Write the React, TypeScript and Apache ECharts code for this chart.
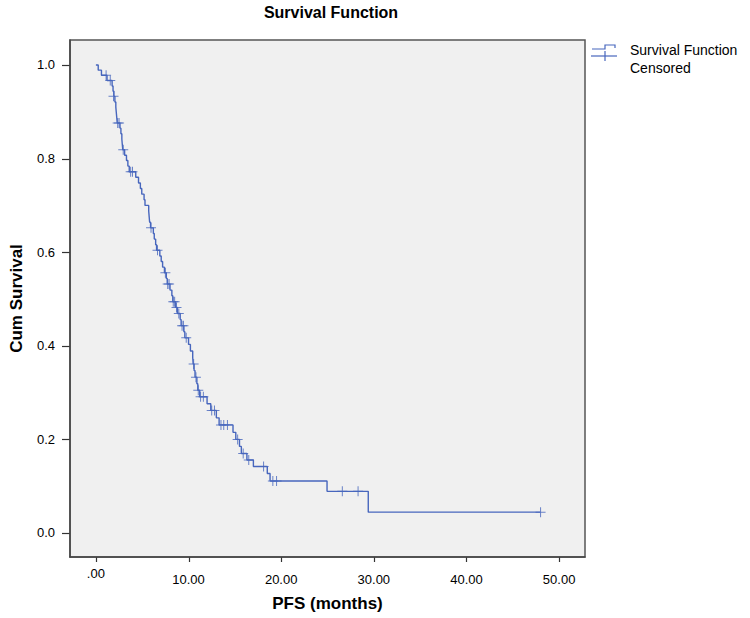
import React, { useEffect, useRef } from "react";
import * as echarts from "echarts";

// Kaplan-Meier steps: [time (months), survival after event]
const eventTimes = [0, 0.25, 0.6, 1.2, 1.75, 1.85, 1.95, 2.05, 2.15, 2.2, 2.25, 2.3, 2.6, 2.7, 2.8, 2.85, 2.9, 3.1, 3.3, 3.45, 3.6, 4.3, 4.6, 4.8, 4.95, 5.2, 5.3, 5.7, 5.75, 5.8, 5.9, 6.2, 6.3, 6.45, 6.55, 6.9, 7.05, 7.2, 7.4, 7.6, 7.7, 8.0, 8.2, 8.3, 8.6, 8.8, 9.1, 9.2, 9.5, 9.6, 10.0, 10.2, 10.45, 10.5, 10.6, 10.7, 10.9, 11.0, 11.2, 12.0, 12.4, 13.0, 13.3, 14.8, 15.1, 15.5, 15.7, 16.3, 17.0, 18.5, 18.8, 24.95, 29.4, 48.0];
const eventSurv = [1.0, 0.989, 0.978, 0.967, 0.955, 0.944, 0.933, 0.921, 0.91, 0.899, 0.888, 0.876, 0.865, 0.853, 0.842, 0.83, 0.819, 0.807, 0.796, 0.784, 0.772, 0.76, 0.748, 0.736, 0.724, 0.712, 0.7, 0.688, 0.676, 0.664, 0.652, 0.64, 0.628, 0.616, 0.604, 0.592, 0.58, 0.568, 0.556, 0.544, 0.532, 0.519, 0.507, 0.494, 0.482, 0.469, 0.456, 0.443, 0.43, 0.417, 0.403, 0.389, 0.375, 0.361, 0.347, 0.333, 0.319, 0.305, 0.291, 0.276, 0.262, 0.246, 0.231, 0.215, 0.2, 0.185, 0.17, 0.156, 0.142, 0.127, 0.111, 0.089, 0.0445, 0.0445];

// Censored observations
const censorTimes = [1.1, 1.55, 1.9, 2.35, 2.5, 2.95, 3.75, 3.95, 5.95, 6.65, 7.5, 7.75, 7.9, 8.35, 8.5, 8.7, 8.95, 9.3, 9.45, 9.75, 10.55, 10.8, 11.05, 11.3, 11.6, 12.5, 12.8, 13.5, 13.8, 14.2, 15.3, 15.9, 16.5, 18.1, 19.1, 19.5, 26.6, 28.3, 48.0];
const censorSurv = [0.978, 0.967, 0.933, 0.876, 0.876, 0.819, 0.772, 0.772, 0.652, 0.604, 0.556, 0.532, 0.532, 0.494, 0.494, 0.482, 0.469, 0.443, 0.443, 0.417, 0.361, 0.333, 0.305, 0.291, 0.291, 0.262, 0.262, 0.231, 0.231, 0.231, 0.2, 0.17, 0.156, 0.142, 0.111, 0.111, 0.089, 0.089, 0.0445];

const xTicks = [0, 10, 20, 30, 40, 50];
const yTicks = [0, 0.2, 0.4, 0.6, 0.8, 1.0];
const legendLabels = ["Survival Function", "Censored"];

const FONT = "'Liberation Sans', Arial, sans-serif";
const LINE = "#4766bd";
const CROSS = "path://M4.5,0h1v10h-1zM0,4.5h10v1h-10z";

const X_MIN = -2.796;
const X_MAX = 52.796;
const Y_MIN = -0.0513;
const Y_MAX = 1.0534;

export default function App() {
  const ref = useRef<HTMLDivElement>(null);
  useEffect(() => {
    if (!ref.current) return;
    const chart = echarts.init(ref.current, null, { renderer: "svg" });
    const stepData = eventTimes.map((t, i) => [t, eventSurv[i]]);
    const censorData = censorTimes.map((t, i) => [t, censorSurv[i]]);
    const legendGraphics: any[] = [
      {
        type: "polyline",
        shape: { points: [[592, 49], [605, 49], [605, 45], [615, 45], [615, 48]] },
        style: { stroke: LINE, lineWidth: 1.2, fill: null },
      },
      {
        type: "line",
        shape: { x1: 591, y1: 56, x2: 617, y2: 56 },
        style: { stroke: LINE, lineWidth: 1.2 },
      },
      {
        type: "line",
        shape: { x1: 605, y1: 51, x2: 605, y2: 61 },
        style: { stroke: LINE, lineWidth: 1.2 },
      },
      {
        type: "text",
        x: 630,
        y: 50,
        style: { text: legendLabels[0], fontFamily: FONT, fontSize: 14, fill: "#000", verticalAlign: "middle" },
      },
      {
        type: "text",
        x: 630,
        y: 68,
        style: { text: legendLabels[1], fontFamily: FONT, fontSize: 14, fill: "#000", verticalAlign: "middle" },
      },
    ];
    chart.setOption({
      animation: false,
      backgroundColor: "#ffffff",
      textStyle: { fontFamily: FONT },
      title: {
        text: "Survival Function",
        left: 326,
        top: -1,
        textAlign: "center",
        textStyle: { fontFamily: FONT, fontSize: 16, fontWeight: "bold", color: "#000" },
      },
      grid: {
        left: 68,
        right: 165,
        top: 40,
        bottom: 61,
        show: true,
        backgroundColor: "#f0f0f0",
        borderColor: "#555",
        borderWidth: 1.5,
      },
      xAxis: {
        type: "value",
        min: X_MIN,
        max: X_MAX,
        axisLine: { show: true, onZero: false, lineStyle: { color: "#444", width: 1.5 } },
        axisTick: { show: false },
        splitLine: { show: false },
        axisLabel: {
          customValues: xTicks,
          margin: 10,
          fontSize: 13,
          color: "#000",
          fontFamily: FONT,
          formatter: (v: number) => (v === 0 ? "{z|.00}" : "{n|" + v.toFixed(2) + "}"),
          rich: {
            z: { fontSize: 13, fontFamily: FONT, color: "#000" },
            n: { fontSize: 13, fontFamily: FONT, color: "#000", padding: [6, 0, 0, 0] },
          },
        },
        name: "PFS (months)",
        nameLocation: "middle",
        nameGap: 38,
        nameTextStyle: { fontFamily: FONT, fontSize: 17, fontWeight: "bold", color: "#000" },
      },
      yAxis: {
        type: "value",
        min: Y_MIN,
        max: Y_MAX,
        axisLine: { show: true, onZero: false, lineStyle: { color: "#444", width: 1.5 } },
        axisTick: { show: false },
        splitLine: { show: false },
        axisLabel: {
          customValues: yTicks,
          margin: 15,
          fontSize: 13,
          color: "#000",
          fontFamily: FONT,
          formatter: (v: number) => v.toFixed(1),
        },
        name: "Cum Survival",
        nameLocation: "middle",
        nameGap: 45,
        nameTextStyle: { fontFamily: FONT, fontSize: 17, fontWeight: "bold", color: "#000" },
      },
      graphic: legendGraphics,
      series: [
        {
          name: legendLabels[0],
          type: "line",
          step: "end",
          data: stepData,
          showSymbol: false,
          symbol: "none",
          lineStyle: { color: LINE, width: 1.4 },
          z: 2,
        },
        {
          name: legendLabels[1],
          type: "scatter",
          data: censorData,
          symbol: CROSS,
          symbolSize: 10,
          itemStyle: { color: LINE },
          z: 3,
        },
      ],
    });
    // Tick marks placed through the axes' own scales
    const bottomPx = chart.convertToPixel({ yAxisIndex: 0 }, Y_MIN) as number;
    const leftPx = chart.convertToPixel({ xAxisIndex: 0 }, X_MIN) as number;
    const tickGraphics: any[] = [];
    xTicks.forEach((v) => {
      const px = Math.round(chart.convertToPixel({ xAxisIndex: 0 }, v) as number) + 0.5;
      tickGraphics.push({
        type: "line",
        shape: { x1: px, y1: bottomPx, x2: px, y2: bottomPx + 5 },
        style: { stroke: "#333", lineWidth: 1.2 },
      });
    });
    yTicks.forEach((v) => {
      const py = Math.round(chart.convertToPixel({ yAxisIndex: 0 }, v) as number) + 0.5;
      tickGraphics.push({
        type: "line",
        shape: { x1: leftPx - 8, y1: py, x2: leftPx, y2: py },
        style: { stroke: "#333", lineWidth: 1.2 },
      });
    });
    chart.setOption({ graphic: legendGraphics.concat(tickGraphics) });
    return () => chart.dispose();
  }, []);
  return (
    <div
      ref={ref}
      style={{ position: "absolute", left: 0, top: 0, width: 750, height: 618 }}
    />
  );
}
